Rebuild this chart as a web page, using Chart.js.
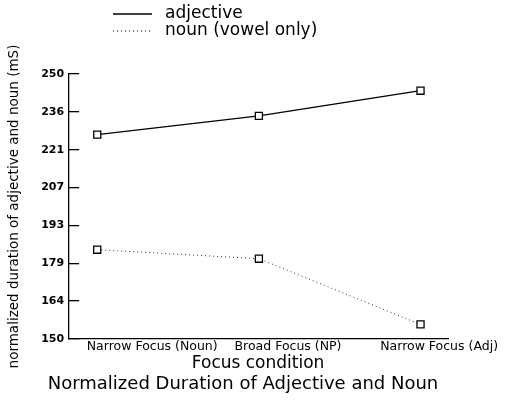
<!DOCTYPE html>
<html>
<head>
<meta charset="utf-8">
<script src="https://cdn.jsdelivr.net/npm/chart.js@4.4.1/dist/chart.umd.min.js"></script>
<style>
  html, body { margin: 0; padding: 0; background: #fff; }
  #wrap { width: 511px; height: 401px; position: relative; }
</style>
</head>
<body>
<div id="wrap"><canvas id="durationChart"></canvas></div>
<script>
// categories and values
const conditions = ['Narrow Focus (Noun)', 'Broad Focus (NP)', 'Narrow Focus (Adj)'];
const adjectiveDur = [227.1, 234.2, 243.7];
const nounDur = [183.7, 180.3, 155.5];
const yTickLabels = ['150', '164', '179', '193', '207', '221', '236', '250'];

const fontFam = '"DejaVu Sans", sans-serif';

// legend drawn as two rows above the plot (line sample + label)
const legendRows = {
    id: 'legendRows',
    afterLayout(chart) {
        // centre the bottom title a bit further right, like the original
        if (chart.titleBlock) {
            chart.titleBlock.left = 0;
            chart.titleBlock.right = 486;
        }
    },
    afterDraw(chart) {
        const ctx = chart.ctx;
        chart.data.datasets.forEach((ds, i) => {
            const y = 14 + i * 17;
            ctx.save();
            ctx.strokeStyle = '#000';
            ctx.lineWidth = ds.borderWidth;
            ctx.setLineDash(ds.borderDash || []);
            ctx.beginPath();
            ctx.moveTo(113, y);
            ctx.lineTo(152, y);
            ctx.stroke();
            ctx.setLineDash([]);
            ctx.fillStyle = '#000';
            ctx.font = '17px ' + fontFam;
            ctx.textBaseline = 'middle';
            ctx.fillText(ds.label, 165, y);
            ctx.restore();
        });
    }
};

const ctx = document.getElementById('durationChart').getContext('2d');
new Chart(ctx, {
    type: 'line',
    data: {
        datasets: [
            {
                label: 'adjective',
                data: adjectiveDur.map((v, i) => ({ x: i, y: v })),
                borderColor: '#000',
                borderWidth: 1.3,
                pointStyle: 'rect',
                pointRadius: 5,
                pointBorderWidth: 1.3,
                pointBackgroundColor: '#fff',
                pointBorderColor: '#000'
            },
            {
                label: 'noun (vowel only)',
                data: nounDur.map((v, i) => ({ x: i, y: v })),
                borderColor: '#333',
                borderWidth: 1,
                borderDash: [1, 3],
                pointStyle: 'rect',
                pointRadius: 5,
                pointBorderWidth: 1.3,
                pointBackgroundColor: '#fff',
                pointBorderColor: '#000'
            }
        ]
    },
    options: {
        responsive: true,
        maintainAspectRatio: false,
        animation: false,
        layout: { padding: { top: 74, right: 63, left: 6, bottom: 4 } },
        plugins: {
            legend: { display: false },
            tooltip: { enabled: false },
            title: {
                display: true,
                position: 'bottom',
                text: 'Normalized Duration of Adjective and Noun',
                color: '#000',
                font: { family: fontFam, size: 18, weight: 'normal' },
                padding: { top: 0, bottom: 2 }
            }
        },
        scales: {
            x: {
                type: 'linear',
                min: -0.18,
                max: 2.17,
                afterBuildTicks: (scale) => {
                    scale.ticks = [0.34, 1.18, 2.115].map(v => ({ value: v }));
                },
                ticks: {
                    callback: (v, i) => conditions[i],
                    color: '#000',
                    maxRotation: 0,
                    autoSkip: false,
                    padding: 0,
                    font: { family: fontFam, size: 12.5 }
                },
                grid: { display: false, drawTicks: false },
                border: { display: true, color: '#000', width: 1.3 },
                title: {
                    display: true,
                    text: 'Focus condition',
                    color: '#000',
                    padding: { top: -1, bottom: 0 },
                    font: { family: fontFam, size: 17 }
                }
            },
            y: {
                min: 150,
                max: 250,
                afterBuildTicks: (scale) => {
                    scale.ticks = yTickLabels.map((t, i) => ({ value: 150 + i * 100 / 7 }));
                },
                ticks: {
                    callback: (v, i) => yTickLabels[i],
                    color: '#000',
                    padding: 15,
                    font: { family: fontFam, size: 11, weight: 'bold' }
                },
                grid: {
                    drawOnChartArea: false,
                    drawTicks: true,
                    tickLength: -11,
                    color: '#000',
                    lineWidth: 1.3
                },
                border: { display: true, color: '#000', width: 1.3 },
                title: {
                    display: true,
                    text: 'normalized duration of adjective and noun (mS)',
                    color: '#000',
                    padding: { top: 0, bottom: 4 },
                    font: { family: fontFam, size: 13.5 }
                }
            }
        }
    },
    plugins: [legendRows]
});
</script>
</body>
</html>
